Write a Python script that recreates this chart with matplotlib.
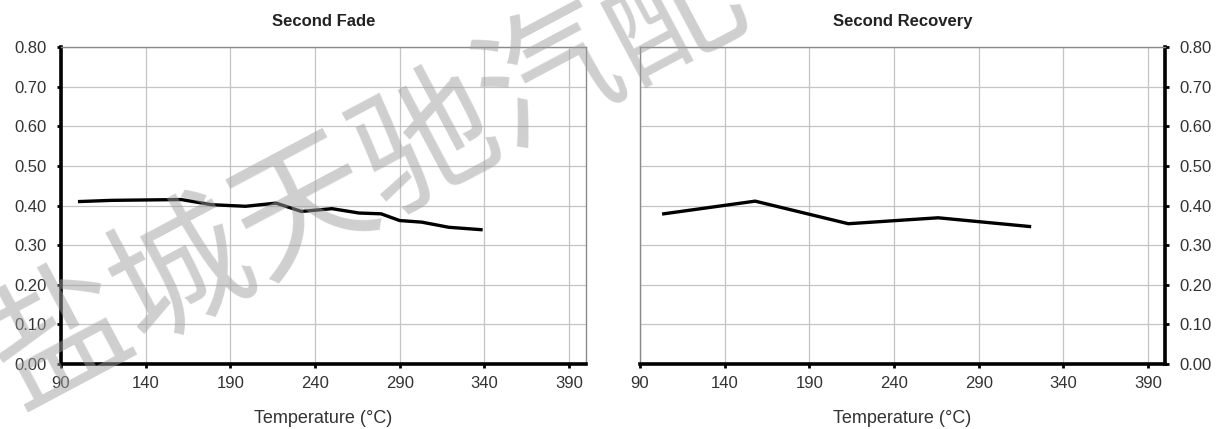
import matplotlib.pyplot as plt

plt.rcParams['font.family'] = ['Liberation Sans', 'DejaVu Sans']

# Second Fade
fade_temp = [101, 120, 140, 161, 179, 199, 217, 232, 250, 266, 279, 290, 303, 319, 338]
fade_mu = [0.410, 0.413, 0.414, 0.415, 0.402, 0.398, 0.406, 0.385, 0.392, 0.381, 0.379, 0.362, 0.358, 0.345, 0.339]

# Second Recovery
rec_temp = [104, 158, 213, 266, 320]
rec_mu = [0.379, 0.411, 0.354, 0.369, 0.347]

x_ticks = [90, 140, 190, 240, 290, 340, 390]
y_ticks = [0.0, 0.1, 0.2, 0.3, 0.4, 0.5, 0.6, 0.7, 0.8]

fig = plt.figure(figsize=(12.24, 4.29), dpi=100)
ax1 = fig.add_axes([61 / 1224, 1 - 364 / 429, 525 / 1224, 317 / 429])
ax2 = fig.add_axes([640 / 1224, 1 - 364 / 429, 525 / 1224, 317 / 429])


def style(ax, title, side):
    ax.set_xlim(90, 400)
    ax.set_ylim(0, 0.8)
    ax.set_xticks(x_ticks)
    ax.set_yticks(y_ticks)
    ax.set_yticklabels(['%.2f' % v for v in y_ticks])
    ax.grid(True, color='#c4c4c4', linewidth=0.9)
    ax.set_axisbelow(True)
    for s in ax.spines.values():
        s.set_color('#8a8a8a')
        s.set_linewidth(1.0)
    ax.spines['bottom'].set_color('black')
    ax.spines['bottom'].set_linewidth(2.6)
    ax.spines[side].set_color('black')
    ax.spines[side].set_linewidth(2.6)
    ax.tick_params(axis='both', direction='out', length=3, width=2, color='black',
                   labelsize=12, labelcolor='#333333')
    ax.tick_params(axis='x', pad=6)
    ax.tick_params(axis='y', pad=7)
    if side == 'right':
        ax.yaxis.tick_right()
    ax.set_title(title, fontsize=12, fontweight='bold', pad=15, color='#222222')
    ax.set_xlabel('Temperature (°C)', fontsize=13, color='#333333', labelpad=13)


ax1.plot(fade_temp, fade_mu, color='black', linewidth=2.4, zorder=3)
ax2.plot(rec_temp, rec_mu, color='black', linewidth=2.4, zorder=3)
style(ax1, 'Second Fade', 'left')
style(ax2, 'Second Recovery', 'right')

fig.text(0.30, 0.59, '盐城天驰汽配', fontsize=100, rotation=28,
         family=['Noto Sans CJK SC', 'DejaVu Sans'], color='#a0a0a0', alpha=0.5,
         ha='center', va='center', zorder=10)

fig.savefig('out.png', dpi=100)
